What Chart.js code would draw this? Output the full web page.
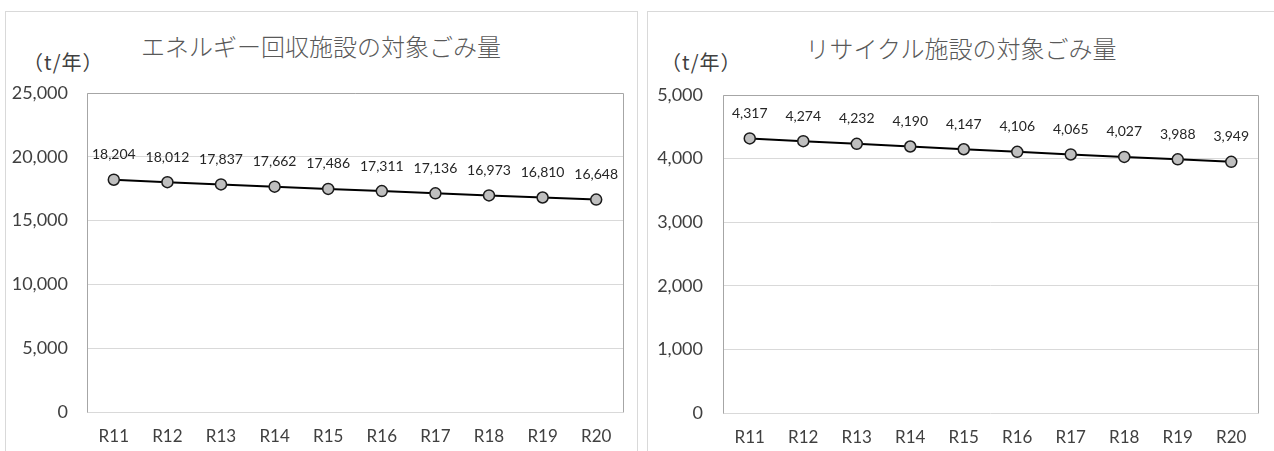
<!DOCTYPE html>
<html><head><meta charset="utf-8">
<script src="https://cdn.jsdelivr.net/npm/chart.js@4.4.1/dist/chart.umd.min.js"></script>
<style>
html,body{margin:0;padding:0;background:#fff;width:1274px;height:451px;overflow:hidden;position:relative;}
.frame{position:absolute;border:1px solid #d9d9d9;box-sizing:border-box;}
canvas{position:absolute;}
.title{position:absolute;font-family:"Noto Sans CJK JP",sans-serif;font-size:24px;color:#595959;white-space:nowrap;transform:translate(-50%,-50%);font-weight:300;}
.unit{position:absolute;font-family:"Noto Sans CJK JP",sans-serif;font-size:20px;letter-spacing:1px;color:#404040;white-space:nowrap;transform:translateY(-50%);}
</style></head>
<body>
<div class="frame" style="left:5px;top:11px;width:633px;height:460px;"></div>
<div class="frame" style="left:647px;top:11px;width:640px;height:460px;"></div>
<div class="title" style="left:321px;top:45px;">エネルギー回収施設の対象ごみ量</div>
<div class="title" style="left:961px;top:47px;">リサイクル施設の対象ごみ量</div>
<div class="unit" style="left:23px;top:61px;">（t/年）</div>
<div class="unit" style="left:661px;top:61px;">（t/年）</div>
<canvas id="c1" width="632" height="440" style="left:5px;top:11px;"></canvas>
<canvas id="c2" width="626" height="440" style="left:647px;top:11px;"></canvas>
<script>
const categories = ["R11","R12","R13","R14","R15","R16","R17","R18","R19","R20"];
const energyValues = [18204,18012,17837,17662,17486,17311,17136,16973,16810,16648];
const recycleValues = [4317,4274,4232,4190,4147,4106,4065,4027,3988,3949];
const energyTicks = {max:25000, step:5000};
const recycleTicks = {max:5000, step:1000};

const numFont = 'Lato, "Open Sans", sans-serif';
const fmt = v => Number(v).toLocaleString('en-US');

const plotBorder = {
  id:'plotBorder',
  afterDraw(chart){
    const a = chart.chartArea, ctx = chart.ctx;
    ctx.save();
    ctx.strokeStyle = '#a6a6a6'; ctx.lineWidth = 1;
    ctx.beginPath();
    ctx.moveTo(Math.round(a.left)+0.5, Math.round(a.bottom)+0.5);
    ctx.lineTo(Math.round(a.left)+0.5, Math.round(a.top)+0.5);
    ctx.lineTo(Math.round(a.right)+0.5, Math.round(a.top)+0.5);
    ctx.lineTo(Math.round(a.right)+0.5, Math.round(a.bottom)+0.5);
    ctx.stroke();
    ctx.restore();
  }
};
const dataLabels = {
  id:'dataLabels',
  afterDatasetsDraw(chart){
    const ctx = chart.ctx;
    ctx.save();
    ctx.font = '14px ' + numFont;
    ctx.fillStyle = '#262626';
    ctx.textAlign = 'center';
    ctx.textBaseline = 'middle';
    chart.data.datasets.forEach((ds,i)=>{
      chart.getDatasetMeta(i).data.forEach((pt,j)=>{
        ctx.fillText(fmt(ds.data[j]), pt.x, pt.y - 25);
      });
    });
    ctx.restore();
  }
};

function makeChart(id, values, tk, geom){
  return new Chart(document.getElementById(id), {
    type:'line',
    data:{labels:categories, datasets:[{
      data:values, borderColor:'#000', borderWidth:2,
      pointRadius:5.5, pointBackgroundColor:'#bfbfbf', pointBorderColor:'#1a1a1a', pointBorderWidth:1.5,
      tension:0, fill:false
    }]},
    options:{
      responsive:false, animation:false, devicePixelRatio:1,
      layout:{padding:{top:geom.top,right:geom.right,bottom:0,left:0}},
      plugins:{legend:{display:false},title:{display:false},tooltip:{enabled:false}},
      scales:{
        x:{type:'category', offset:true,
          grid:{display:false, drawTicks:false},
          border:{display:false},
          ticks:{padding:geom.xpad, color:'#404040', font:{family:numFont,size:17}, maxRotation:0, autoSkip:false},
          afterFit(s){ s.height = geom.xh; }
        },
        y:{min:0, max:tk.max,
          grid:{color:'#d9d9d9', drawTicks:false},
          border:{display:false},
          ticks:{stepSize:tk.step, padding:geom.ypad, color:'#404040', font:{family:numFont,size:18}, callback:v=>fmt(v)},
          afterFit(s){ s.width = geom.yw; }
        }
      }
    },
    plugins:[plotBorder, dataLabels]
  });
}
makeChart('c1', energyValues, energyTicks, {top:82,right:14,xh:39,yw:82,ypad:19,xpad:14});
makeChart('c2', recycleValues, recycleTicks, {top:84,right:15,xh:38,yw:76,ypad:20,xpad:14});
</script>
</body></html>
